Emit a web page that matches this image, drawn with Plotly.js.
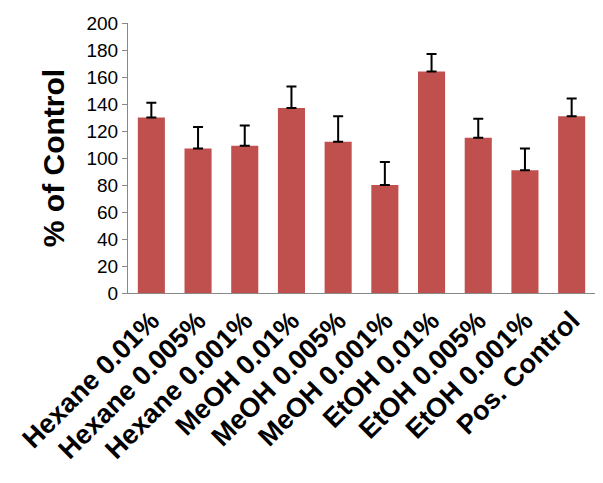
<html><head><script src="https://cdn.plot.ly/plotly-3.0.1.min.js"></script></head><body style="margin:0">
<div id="c" style="width:603px;height:483px"></div>
<script>
const categories=["Hexane 0.01%","Hexane 0.005%","Hexane 0.001%","MeOH 0.01%","MeOH 0.005%","MeOH 0.001%","EtOH 0.01%","EtOH 0.005%","EtOH 0.001%","Pos. Control"];
const values=[130,107,109,137,112,80,164,115,91,131];
const errors=[11,16,15,16,19,17,13,14,16,13];
Plotly.newPlot('c',[{type:'bar',x:categories,y:values,marker:{color:'#C0504D'},width:0.58,
error_y:{type:'data',array:errors,arrayminus:errors.map(()=>0),symmetric:false,color:'#000',thickness:2,width:5}}],
{width:603,height:483,margin:{l:128,r:8,t:23,b:190},paper_bgcolor:'#fff',plot_bgcolor:'#fff',showlegend:false,
font:{family:'Liberation Sans, Arial',color:'#000'},
xaxis:{tickangle:-45,tickfont:{size:27,family:'Liberation Sans, Arial',weight:'bold'},showline:true,linecolor:'#888',ticks:'',automargin:false},
yaxis:{range:[0,200],dtick:20,tickfont:{size:19},showline:true,linecolor:'#888',ticks:'outside',ticklen:5,tickcolor:'#888',showgrid:false,zeroline:false,
title:{text:'% of Control',font:{size:30,weight:'bold'},standoff:12}}},{displayModeBar:false});
</script></body></html>
